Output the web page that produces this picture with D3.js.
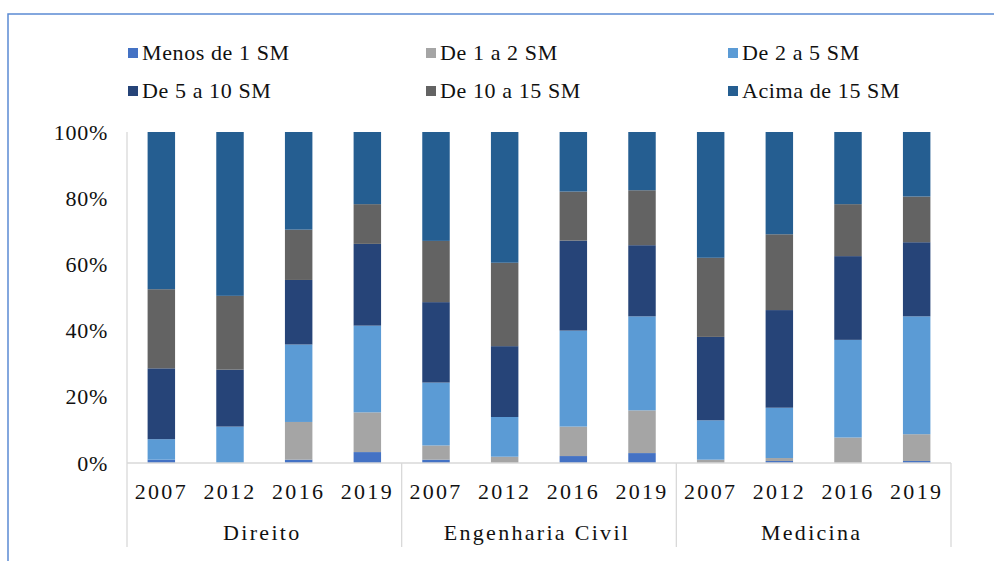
<!DOCTYPE html>
<html>
<head>
<meta charset="utf-8">
<script src="https://cdn.jsdelivr.net/npm/d3@7"></script>
<style>
  body { margin: 0; background: #fff; }
  text { font-family: "Liberation Serif", "Times New Roman", serif; fill: #111; }
</style>
</head>
<body>
<script>
// categories
const groups = ['Direito', 'Engenharia Civil', 'Medicina'];
const years = ['2007', '2012', '2016', '2019'];
const seriesNames = ['Menos de 1 SM', 'De 1 a 2 SM', 'De 2 a 5 SM', 'De 5 a 10 SM', 'De 10 a 15 SM', 'Acima de 15 SM'];

// values (%) per bar, in order Direito 2007..2019, Eng. Civil 2007..2019, Medicina 2007..2019
const menos1  = [1.0, 0,    1.0,  3.3,  1.0,  0,    2.1,  3.0,  0,    0.6,  0,    0.6];
const de1a2   = [0,   0,    11.4, 12.0, 4.3,  1.9,  8.9,  12.9, 1.0,  0.9,  7.7,  8.1];
const de2a5   = [6.2, 11.0, 23.4, 26.2, 19.0, 12.0, 29.0, 28.4, 11.9, 15.2, 29.5, 35.6];
const de5a10  = [21.4, 17.2, 19.5, 24.7, 24.3, 21.4, 27.2, 21.5, 25.2, 29.5, 25.3, 22.4];
const de10a15 = [23.9, 22.3, 15.2, 12.0, 18.5, 25.2, 14.8, 16.6, 23.9, 22.9, 15.7, 13.8];
const acima15 = [47.5, 49.5, 29.5, 21.8, 32.9, 39.5, 18.0, 17.6, 38.0, 30.9, 21.8, 19.5];

const yTicks = [0, 0.2, 0.4, 0.6, 0.8, 1];

const colors = ['#4472C4', '#A5A5A5', '#5B9BD5', '#264478', '#636363', '#255E91'];

const allSeries = [menos1, de1a2, de2a5, de5a10, de10a15, acima15];

// rows for d3.stack
const rows = [];
groups.forEach((g, gi) => {
    years.forEach((yr, yi) => {
        const i = gi * years.length + yi;
        const row = { key: g + '|' + yr, group: g, year: yr };
        seriesNames.forEach((s, si) => row[s] = allSeries[si][i]);
        rows.push(row);
    });
});

const width = 994, height = 561;
const plotLeft = 127, plotRight = 951, plotTop = 132, plotBottom = 463, axisFoot = 547;

const svg = d3.select('body').append('svg')
    .attr('width', width)
    .attr('height', height);

// chart frame (only top and left edges fall inside the picture)
svg.append('path')
    .attr('d', `M8,${height} L8,14 L${width},14`)
    .attr('fill', 'none')
    .attr('stroke', '#5B8BD3')
    .attr('stroke-width', 1.5);

const x = d3.scaleBand()
    .domain(rows.map(d => d.key))
    .range([plotLeft, plotRight])
    .paddingInner(0.6)
    .paddingOuter(0.3);

const xGroup = d3.scaleBand()
    .domain(groups)
    .range([plotLeft, plotRight]);

const y = d3.scaleLinear()
    .domain([0, 1])
    .range([plotBottom, plotTop]);

const stack = d3.stack()
    .keys(seriesNames)
    .offset(d3.stackOffsetExpand);

const layers = stack(rows);

svg.append('g')
    .selectAll('g')
    .data(layers)
    .enter()
    .append('g')
    .attr('fill', (d, i) => colors[i])
    .selectAll('rect')
    .data(d => d)
    .enter()
    .append('rect')
    .attr('x', d => x(d.data.key))
    .attr('y', d => y(d[1]))
    .attr('width', x.bandwidth())
    .attr('height', d => y(d[0]) - y(d[1]));

// y axis
const yAxis = d3.axisLeft(y)
    .tickValues(yTicks)
    .tickFormat(d3.format('.0%'))
    .tickSize(0)
    .tickPadding(20);

const yAxisGroup = svg.append('g')
    .attr('transform', `translate(${plotLeft},0)`)
    .call(yAxis);
yAxisGroup.select('.domain').remove();
yAxisGroup.selectAll('text')
    .attr('font-size', 22)
    .attr('letter-spacing', 0.7)
    .attr('dx', 1)
    .attr('font-family', '"Liberation Serif", serif')
    .attr('fill', '#111');

// axis lines
const axisColor = '#D9D9D9';
svg.append('line')
    .attr('x1', plotLeft).attr('x2', plotLeft)
    .attr('y1', plotTop).attr('y2', axisFoot)
    .attr('stroke', axisColor).attr('stroke-width', 1.3);

svg.append('line')
    .attr('x1', plotLeft).attr('x2', plotRight)
    .attr('y1', plotBottom).attr('y2', plotBottom)
    .attr('stroke', axisColor).attr('stroke-width', 1.3);

// group separators
svg.selectAll('line.sep')
    .data(groups)
    .enter()
    .append('line')
    .attr('class', 'sep')
    .attr('x1', g => xGroup(g) + xGroup.bandwidth())
    .attr('x2', g => xGroup(g) + xGroup.bandwidth())
    .attr('y1', plotBottom).attr('y2', axisFoot)
    .attr('stroke', axisColor).attr('stroke-width', 1.3);

// year labels
const xAxis = d3.axisBottom(x)
    .tickSize(0)
    .tickPadding(0)
    .tickFormat(k => k.split('|')[1]);

const xAxisGroup = svg.append('g')
    .attr('transform', `translate(0,${plotBottom})`)
    .call(xAxis);
xAxisGroup.select('.domain').remove();
xAxisGroup.selectAll('text')
    .attr('y', 29)
    .attr('dy', '0.32em')
    .attr('dx', 0)
    .attr('font-size', 22)
    .attr('letter-spacing', 2.3)
    .attr('font-family', '"Liberation Serif", serif')
    .attr('fill', '#111');

// group labels
svg.selectAll('text.group')
    .data(groups)
    .enter()
    .append('text')
    .attr('class', 'group')
    .attr('x', g => xGroup(g) + xGroup.bandwidth() / 2 - 2)
    .attr('y', 533)
    .attr('dy', '0.32em')
    .attr('text-anchor', 'middle')
    .attr('font-size', 22)
    .attr('letter-spacing', 2.3)
    .text(g => g);

// legend
const legendCols = [128, 426, 728];
const legendRows = [53, 91];

const legend = svg.selectAll('g.legend')
    .data(seriesNames)
    .enter()
    .append('g')
    .attr('class', 'legend')
    .attr('transform', (d, i) => `translate(${legendCols[i % 3]},${legendRows[Math.floor(i / 3)]})`);

legend.append('rect')
    .attr('x', 0)
    .attr('y', -5)
    .attr('width', 10)
    .attr('height', 10)
    .attr('fill', (d, i) => colors[i]);

legend.append('text')
    .attr('x', 14)
    .attr('dy', '0.32em')
    .attr('font-size', 22)
    .attr('letter-spacing', 0.6)
    .text(d => d);
</script>
</body>
</html>
